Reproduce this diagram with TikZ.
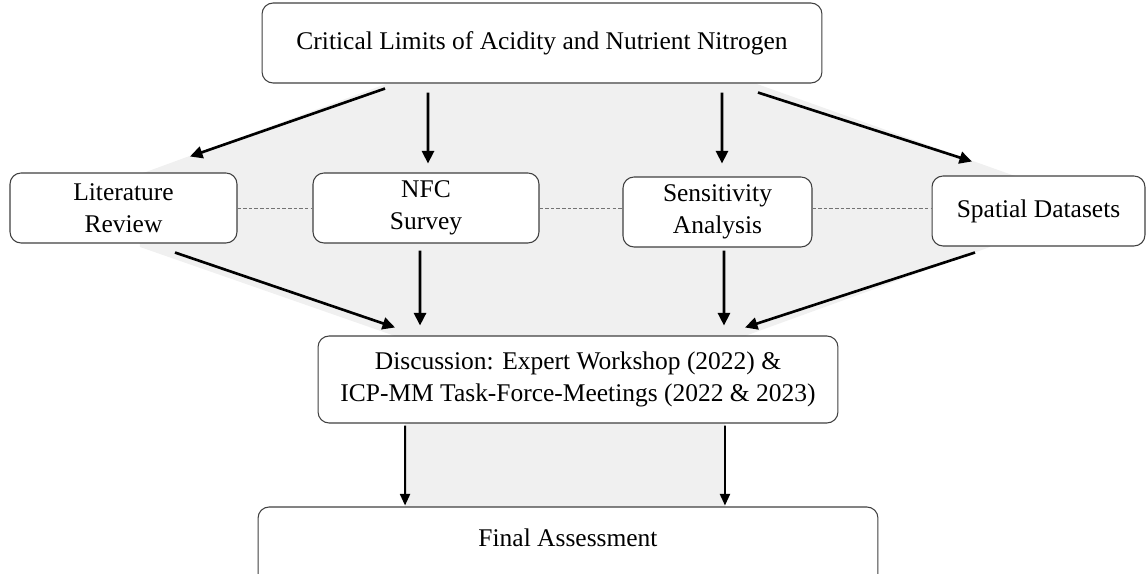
\documentclass[tikz,border=0pt]{standalone}
\usepackage{xcolor}
\usepackage{fontspec}
\setmainfont{Liberation Serif}
\usepackage{tikz}
\usetikzlibrary{shapes, arrows.meta, positioning}

\tikzset{
    box/.style={draw=black!75, rectangle, rounded corners=0.22cm, fill=white, align=center, line width=0.6pt, font=\fontsize{14.5}{18}\selectfont},
    arr/.style={-{Triangle[length=2.5mm,width=2.4mm]}, line width=1.5pt},
    downarr/.style={-{Triangle[length=2.3mm,width=2mm]}, line width=1.1pt},
    link/.style={draw=black!55, dash pattern=on 2pt off 1.2pt, line width=0.4pt}
}

\begin{document}
\begin{tikzpicture}[x=0.02cm, y=-0.02cm]
    \useasboundingbox (0,0) rectangle (1147,574);
    % shaded band behind the flow
    \fill[gray!12] (386,84) -- (757,84) -- (1015,176) -- (990,247) -- (745,336) -- (725,423) -- (725,508)
        -- (405,508) -- (405,423) -- (395,336) -- (140,247) -- (135,176) -- cycle;

    \node[box, minimum width=11.2cm, minimum height=1.6cm] (limits) at (542,43) {Critical Limits of Acidity and Nutrient Nitrogen};

    \node[box, minimum width=4.54cm, minimum height=1.4cm] (lit) at (123.5,208) {Literature\\Review};
    \node[box, minimum width=4.52cm, minimum height=1.4cm] (nfc) at (426,208) {NFC\\Survey};
    \node[box, minimum width=3.78cm, minimum height=1.4cm] (sens) at (717.5,212) {Sensitivity\\Analysis};
    \node[box, minimum width=4.26cm, minimum height=1.4cm] (spatial) at (1038.5,211) {Spatial Datasets};

    \node[box, minimum width=10.4cm, minimum height=1.74cm] (disc) at (578,379.5) {Discussion: Expert Workshop (2022) \&\\ICP-MM Task-Force-Meetings (2022 \& 2023)};
    \node[box, minimum width=12.4cm, minimum height=1.6cm, text depth=0.36cm] (final) at (568,547) {Final Assessment};

    % dotted links between the methods
    \draw[link] (lit.east) -- (nfc.west);
    \draw[link] (nfc.east) -- (sens.west |- nfc.east);
    \draw[link] (sens.east |- nfc.east) -- (spatial.west |- nfc.east);

    % from the critical limits to the methods
    \draw[arr] ([xshift=-3.14cm,yshift=-0.1cm]limits.south) -- ([xshift=1.33cm,yshift=0.32cm]lit.north);
    \draw[arr] ([xshift=-2.28cm,yshift=-0.18cm]limits.south) -- ([xshift=0.04cm,yshift=0.18cm]nfc.north);
    \draw[arr] ([xshift=3.6cm,yshift=-0.18cm]limits.south) -- ([xshift=0.09cm,yshift=0.26cm]sens.north);
    \draw[arr] ([xshift=4.32cm,yshift=-0.18cm]limits.south) -- ([xshift=-1.33cm,yshift=0.28cm]spatial.north);

    % from the methods to the discussion
    \draw[arr] ([xshift=1.03cm,yshift=-0.18cm]lit.south) -- ([xshift=-3.66cm,yshift=0.16cm]disc.north);
    \draw[arr] ([xshift=-0.12cm,yshift=-0.14cm]nfc.south) -- ([xshift=-3.16cm,yshift=0.2cm]disc.north);
    \draw[arr] ([xshift=0.13cm,yshift=-0.06cm]sens.south) -- ([xshift=2.92cm,yshift=0.2cm]disc.north);
    \draw[arr] ([xshift=-1.27cm,yshift=-0.12cm]spatial.south) -- ([xshift=3.34cm,yshift=0.16cm]disc.north);

    % to the final assessment
    \draw[downarr] ([xshift=-3.46cm,yshift=-0.04cm]disc.south) -- ([xshift=-3.26cm,yshift=0.02cm]final.north);
    \draw[downarr] ([xshift=2.94cm,yshift=-0.04cm]disc.south) -- ([xshift=3.14cm,yshift=0.02cm]final.north);
\end{tikzpicture}
\end{document}
